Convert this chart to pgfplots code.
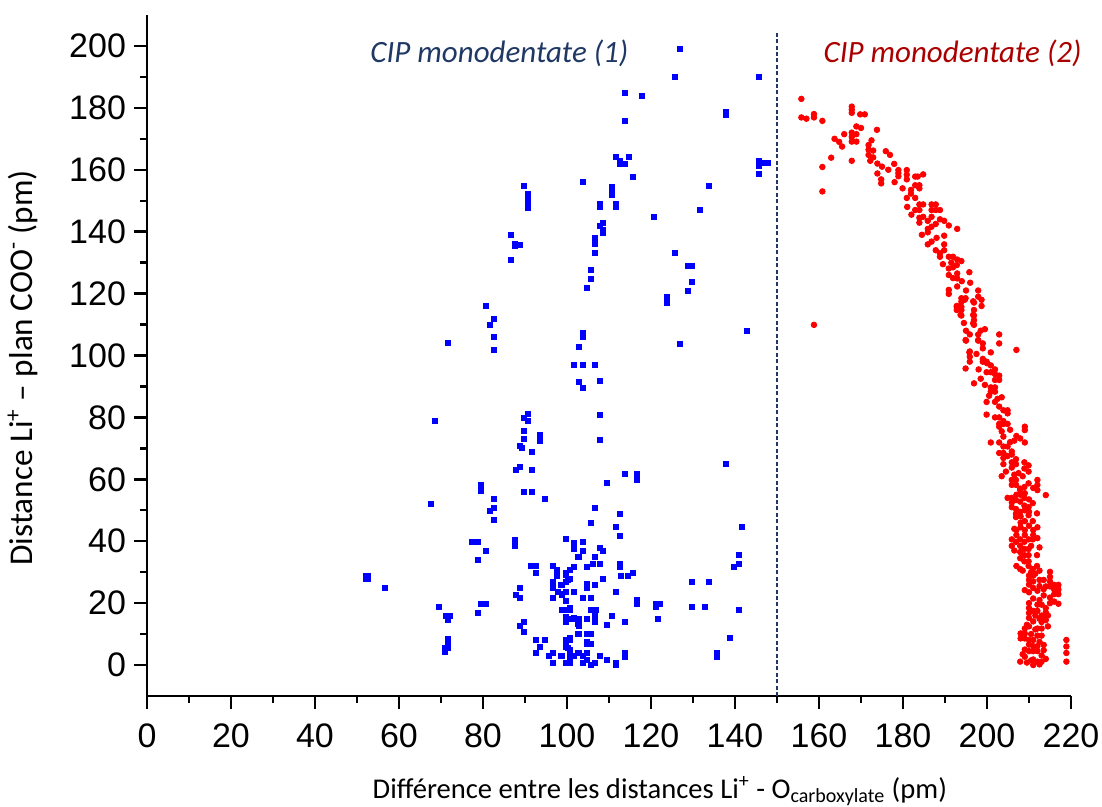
\documentclass[border=0pt]{standalone}
\usepackage{fontspec}
\setmainfont{Carlito}
\newfontfamily\tickfont{Liberation Sans}
\usepackage{pgfplots}
\pgfplotsset{compat=1.18}
\definecolor{navy1}{RGB}{31,56,100}
\definecolor{dred}{RGB}{170,0,0}
\begin{document}
\begin{tikzpicture}
\begin{axis}[
  at={(0,0)}, anchor=south west,
  scale only axis, width=462pt, height=340.5pt,
  xmin=0, xmax=220, ymin=-10, ymax=210,
  axis x line*=bottom, axis y line*=left,
  axis line style={line width=1.3pt, black},
  xtick={0,20,...,220}, ytick={0,20,...,200},
  minor xtick={10,30,...,210}, minor ytick={10,30,...,190},
  tick align=outside,
  major tick length=6.5pt, minor tick length=3.5pt,
  every tick/.style={black, line width=1.2pt},
  tick label style={font=\tickfont\fontsize{17}{17}\selectfont},
  xticklabel shift=4pt,
  yticklabel shift=0.5pt,
  /pgf/number format/assume math mode=true,
  xlabel={Différence entre les distances Li\textsuperscript{+} - O\textsubscript{carboxylate} (pm)},
  ylabel={Distance Li\textsuperscript{+} – plan COO\textsuperscript{-} (pm)},
  xlabel style={font=\fontsize{14.3}{16}\selectfont, at={(axis description cs:0.555,-0.1498)}, anchor=base},
  ylabel style={font=\fontsize{16.6}{18}\selectfont, at={(axis description cs:-0.1234,0.482)}, anchor=base, rotate=0},
  clip=false,
]
\addplot[navy1, line width=0.8pt, dash pattern=on 2pt off 1.2pt, forget plot] coordinates {(150,-10) (150,205)};
\addplot[only marks, mark=square*, mark size=1.25pt, color=blue] table {
x y
68.6 78.8
90.6 81
89.7 80
90.6 78.8
89.7 75.5
89.7 73
93.6 74.5
93.6 72.3
89.2 70
88.7 70.8
91.7 69
87.8 63
88.7 63.9
91.7 62.9
79.6 58.2
79.6 56.4
89.7 55.9
91.7 55.9
82.7 53.8
94.7 53.8
67.6 51.9
82.7 50.9
81.7 49.9
82.7 46.8
77.4 39.8
78.9 39.8
87.7 40.3
87.7 38.5
80.6 37.0
78.7 33.9
99.8 40.8
101.7 39.3
101.7 37.5
102.6 35
52.0 28.8
52.6 28.8
52.0 27.8
52.6 27.8
56.6 25
91.5 32
92.7 32
92.7 29.8
96.7 32
97.7 30.8
97.7 28.8
100.7 30.7
101.7 31.8
99.8 29.8
100.2 27.5
96.7 26.8
98.6 25.8
96.7 25
101.7 23.7
97.8 23.6
98.7 22.7
99.8 23.7
96.7 21.7
88.7 25
87.8 22.7
88.7 21.7
99.8 20.8
98.7 17.9
99.7 17.9
100.7 17.9
100.7 18.6
99.8 15.6
100.7 14.8
101.7 14.8
99.8 14.4
102.6 14.4
102.6 13.2
102.6 9.9
69.6 18.9
72.1 15.8
71.7 14.6
71.1 15.8
79.5 19.9
80.8 19.9
78.7 16.9
88.7 12.7
89.7 13.9
89.7 10.8
92.7 8.0
94.7 8
93.6 5.8
92.7 3.9
95.7 2.9
96.7 3.9
98.6 2.9
96.7 0.8
99.8 7.6
100.7 8.0
99.8 6.3
100.2 5.4
100.7 3.9
101.7 2.9
100.7 0.8
102.6 4
71.7 8.6
71.7 7.2
71.0 5.4
71.0 4.2
71.7 5.4
107.8 80.9
107.8 72.8
137.8 65
113.8 61.8
116.7 61.8
116.7 59.8
109.5 59
106.6 50.9
112.7 48.8
141.7 44.7
105.7 45.9
111.7 44.7
112.7 41.8
103.7 39.8
103.7 36.8
107.8 38
108.6 36.9
102.8 35
106.7 35
140.9 35.7
140.9 32.8
139.8 31.8
101.6 31.8
104.7 31.8
106.2 32.8
107.8 32.8
112.7 32.8
112.7 31.8
115.7 29.8
112.8 28.8
114.5 28.8
100.7 30.8
99.7 29.1
100.7 27.8
99.7 26.9
98.7 26
104.8 26.2
104.8 25
106.7 25.8
108.6 27.8
129.8 26.8
133.8 26.8
99.7 23.6
101.7 23.6
98.7 22.9
111.7 23.6
103.7 21.7
105.7 21.7
99.7 20.8
116.7 21
116.7 19.6
121.1 19.9
122 19.9
121.1 18.9
129.8 18.9
132.8 18.9
140.9 17.9
105.8 17.9
106.8 17.9
106.7 16
110.8 16
121.7 14.9
99.7 15.6
99.7 13.9
100.7 14.9
101.7 15.1
102.8 14.9
104.7 14.9
102.8 13.5
102.8 12.5
106.7 13.9
109.5 12.9
113.8 13.9
102.8 9.9
104.7 9.9
105.7 9.9
104.7 7.5
105.7 6.9
104.7 6.9
138.7 8.8
99.7 8.1
100.7 8.7
99.7 6.0
100.7 4.8
98.7 2.9
99.7 0.8
100.7 0.8
100.7 2.4
101.7 2.9
102.8 4
103.7 2.9
103.7 0.8
104.7 1.8
104.7 3.8
105.7 0
106.7 0.8
107.8 2.9
109.5 1.8
111.7 0.8
111.7 0
113.8 3.8
113.8 2.7
135.7 3.8
135.7 2.7
89.8 154.9
90.6 152.3
90.6 150.5
90.6 149.1
90.6 147.8
86.7 138.9
87.7 135.3
88.7 135.8
87.7 136.1
86.7 131
80.6 116
82.7 111.8
81.7 110
82.7 106
82.7 101.9
71.7 104
126.8 199
125.8 190
145.7 190
113.8 184.9
117.9 184
113.8 175.8
137.8 178.8
137.8 177.6
111.7 164
112.7 162.8
114.8 164
112.7 161.8
113.8 161.8
145.7 163
145.7 161.2
146.8 162.1
147.9 162.1
145.7 158.8
115.7 157.8
103.8 156
110.8 154.5
110.8 153.2
110.8 151.9
133.8 154.9
107.8 148.9
107.8 147.9
111.7 148.9
111.7 147.9
131.7 146.9
120.7 144.8
108.6 142.9
107.8 142
108.6 140.6
108.6 139.6
106.7 138
106.7 136.9
106.7 136
106.7 133
125.8 133
128.7 128.9
129.8 128.9
129.8 123.9
128.8 121
105.7 127.8
105.7 124.9
104.7 121.8
123.7 118.9
123.7 117
142.9 107.9
126.8 103.9
103.7 107.3
103.7 106
102.8 102.9
101.7 96.9
103.7 96.9
106.7 96.9
102.8 91.6
103.7 89.4
107.8 91.8
};
\addplot[only marks, mark=*, mark size=1.4pt, color=red] table {
x y
155.8 182.9
155.8 176.9
158.8 178
158.8 176.9
160.8 175.8
167.8 180.4
167.8 179.4
167.8 178.4
169.8 177.9
170.9 177.9
168.9 174
173.8 172.9
167.8 172
167.8 170.6
168.9 171.5
168.9 169.1
167.8 169.1
163.7 170
164.8 169
162.9 163.9
160.8 160.9
160.8 153
167.8 162.9
158.8 109.9
171.8 168
171.8 166.5
172.9 166.2
171.8 164.8
172.9 164
172.2 162.9
173.9 162
175.9 166
176.9 164.8
173.9 158.8
174.8 156.9
174.8 155.6
177.9 161.9
178.9 159.9
178.9 158.9
178.9 157.9
180.9 159.9
180.9 158.4
180.9 156.9
182.9 157.8
183.5 157.8
184.8 158.5
182.9 155
183.9 155
183.9 154
179.9 154
181.9 153.5
181.9 152.3
180.9 150.9
182.9 150.9
183.9 148.8
184.8 148.8
182.9 147
183.9 147
186.8 148.8
187.8 148.8
186.8 147
187.8 147
188.8 147
184.8 144.8
186.8 144.8
183.9 144.5
183.9 142.9
185.9 143.5
187.8 142.5
188.8 144
189.8 143.5
190.9 142
192.9 140.9
185.9 140.9
185.9 139.8
186.8 141.6
189.8 138.7
186.8 136.8
185.9 135.9
189.8 135.9
187.8 134
188.8 133
189.8 134
188.8 131.9
190.9 131.9
191.9 131.9
192.9 131
193.9 130.5
191.5 130
192.8 129.2
190.9 128.1
191.9 128.5
190.9 126
191.9 125
192.9 126.5
192.9 124.9
195.8 126.9
192.9 122.3
190.9 121.2
190.9 119.9
193.9 118.5
194.9 118.5
193.9 117.4
197.9 121
197.9 119
192.8 115.7
193.9 115.7
192.8 114.7
193.9 114.7
196.9 117.1
193.9 112.9
196.9 114.7
196.9 112.9
196.9 111.4
196.9 109.9
195.9 106.8
197.9 106.8
197.9 105
194.9 105
195.9 101.3
195.9 99.6
195.9 98
194.9 95.8
192.8 116
193.7 116
193.7 113.1
194.7 118
196.7 117.5
196.7 113.1
196.7 110.4
198.7 118
198.7 116
202.9 106.8
195 104.8
197.9 104.8
199 103.9
202.9 103.9
207 101.8
199 102.3
200.9 101
199 98.9
199 98
200 97.5
195.8 101
199.9 98
200.9 96.8
201.9 95.5
200.9 94.6
199.9 94.6
201.9 94
202.9 93.5
202.9 92.1
201.9 92.1
196.9 91
200.9 89.7
201.9 89.7
200.9 88.3
201.9 88.3
199.9 85
201.9 85
202.9 83.5
203.9 82.3
204.9 82.3
204.9 81.3
199.9 80.9
201.9 80
202.9 80
203.9 78.8
202.9 77.9
203.9 77.9
204.9 77.9
202.9 77
209 77
209 75.9
203.9 73.8
207 74
207.9 73.2
209 71.9
200.9 71.9
202.9 71.9
203.9 70.6
204.9 70.6
202.9 68.5
203.9 68.5
205.9 69
203.9 66.9
204.9 67.5
205.9 68
206.9 66.5
205.9 65.5
203.9 64.9
206.9 64.9
205.9 63.8
208.9 65.5
209.9 64.5
208.9 63.5
209.9 62.5
205.9 59.8
206.9 59.8
205.9 58.2
206.9 58.2
207.9 57
208.9 57.5
209.9 58.7
212 59.8
212 58.2
211 57.2
212 56.5
207.9 56.5
214 54.9
204.9 54
205.9 54
205.9 52.5
206.9 53.3
207.9 52.8
208.9 54
208.9 51.5
210.9 52.3
205.9 51
206.9 50.4
206.9 48.9
206.9 47.8
207.9 49.5
209.9 51
211.9 49
209.9 48.4
210.9 46.5
207 43.6
209 43.6
211 43.6
207 42
209 42
211 42
205.9 40.6
206.9 39.8
207.9 40.6
208.9 39.8
209.9 40.6
210.9 40.6
205.9 38.5
207.9 38.5
208.9 37.5
209.9 37.5
207.9 36.5
208.9 35.5
209.9 35.5
211.9 35.5
207.9 34.5
208.9 33.5
209.9 33.5
207 32
207.9 31
209.9 32
210.9 31
211.9 32
209 24.2
210 28.9
211 28.9
210 27.5
211 27
210 26
211 24.9
212 24
210 23.5
211 21.5
210 20
215 30.1
215 28.5
215 27
214 25.4
215 25.4
216 25.9
217 25.9
216 24.4
217 24.4
216 22.9
217 22.9
215 21.8
217 19.8
210 18.4
210 16.8
211 17.5
210 15.2
211 14.1
212 17.5
213 16
214 18.4
214 17
213 13.9
213 11.8
212 11.8
214 14.5
209 11.8
208 10.2
209 10.2
208 8.6
209 8.6
210 8.1
211 8.1
210 6.6
211 6.1
210 4.5
211 4.5
212 4.5
212 6.1
209 5
209 2.7
207.9 1.1
211 0
212 1.1
213 1.1
213 3.1
211 1.8
218.9 8.1
218.9 6
218.9 3.9
218.9 1.1
207.5 62
208.5 61
206.5 61.5
207 55
208 55
209 55.5
210 53.5
209 50
208 48
210 49.5
208 46
209 46.5
210 45
212 44.5
208 44.5
206.5 44
212 41
206.5 37
210.5 38.5
212.5 38
208.5 30.5
210.5 30
211.5 29.5
212.5 30.5
212.5 27.5
213.5 27.5
212.5 25.5
213.5 24.5
213.5 22.5
212.5 21
213 19.5
212 19.5
211.5 16
212.5 15
213.5 15.5
214.5 16
215 20
216 20.5
214.5 12.5
212 9.5
213 9.5
212.5 7.5
213.5 6.5
210.5 10
211.5 11.5
209.5 13
210 12.5
208.5 3.5
213.5 4.8
214 2
209.5 0.8
210.5 1.5
212.5 0.2
203.5 75.5
205.5 76
205.5 72
206.5 72.5
204.5 62.5
203.5 61
202.5 86
203.5 86.5
200.5 87
198.5 92.5
199.5 90.5
198 95.5
197.5 100.5
198.5 108
199.5 108.5
195 108
194.5 110.5
195 121
196 123.5
194 124
189.5 129.5
188 138
184.5 139
182 145.5
181 148
178 156
176.5 160
175 161
172.5 169.5
165.5 167.5
166 171.5
170 173.5
157 176.5
};
\node[anchor=base, font=\itshape\fontsize{15.5}{16}\selectfont, text=navy1] at (axis cs:83.9,194.5) {CIP monodentate (1)};
\node[anchor=base, font=\itshape\fontsize{15.5}{16}\selectfont, text=dred] at (axis cs:191.8,194.5) {CIP monodentate (2)};
\end{axis}
\pgfresetboundingbox
\path[use as bounding box] (-73.5pt,-55.5pt) rectangle (477.5pt,348pt);
\end{tikzpicture}
\end{document}
